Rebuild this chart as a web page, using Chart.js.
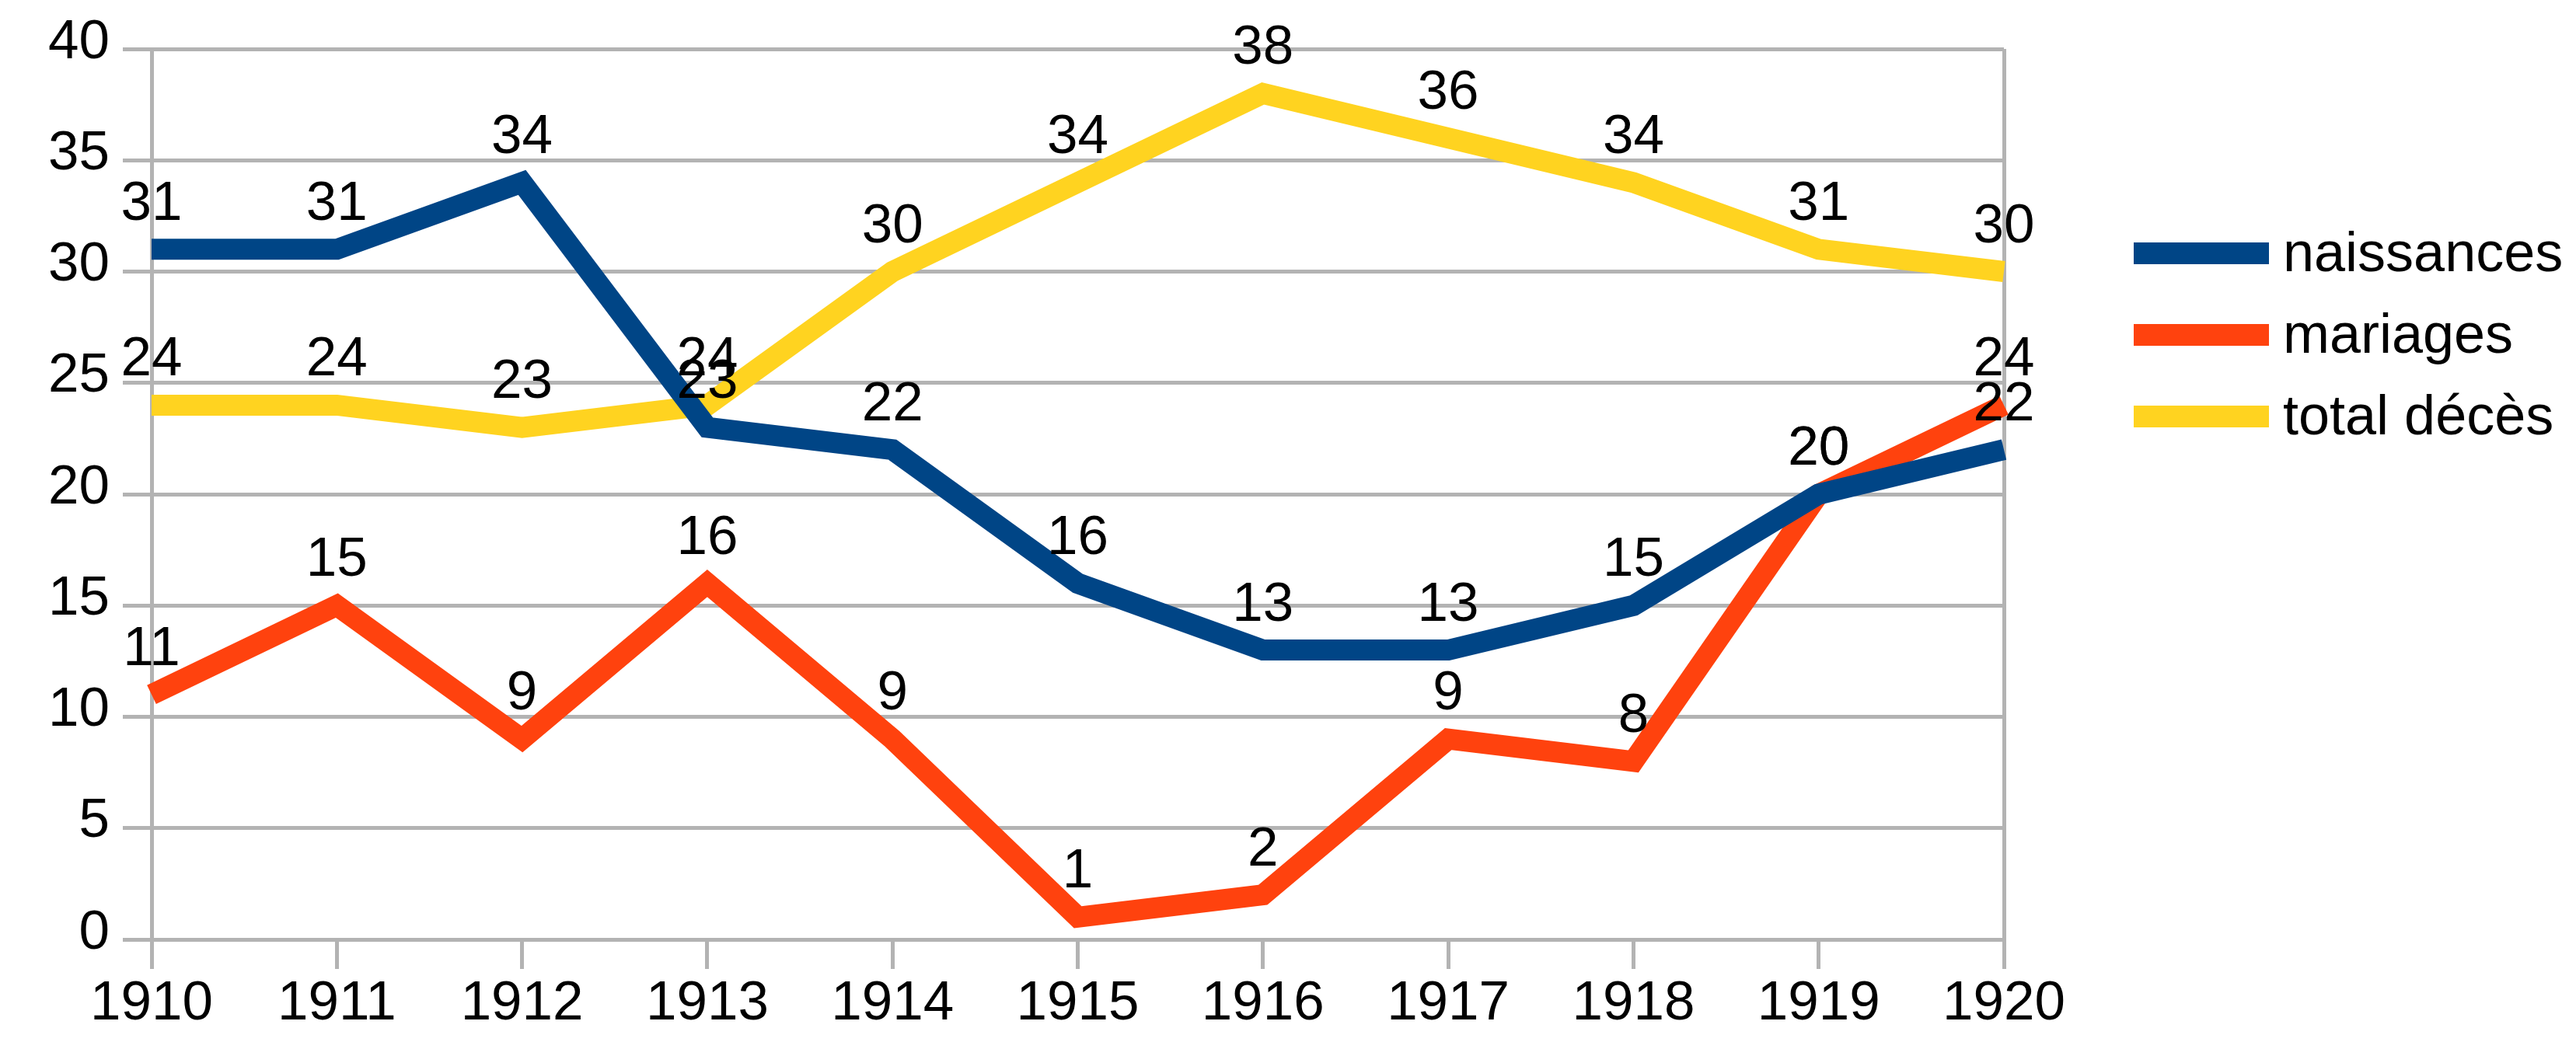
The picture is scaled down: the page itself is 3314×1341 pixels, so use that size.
<!DOCTYPE html>
<html>
<head>
<meta charset="utf-8">
<script src="https://cdn.jsdelivr.net/npm/chart.js@4/dist/chart.umd.min.js"></script>
<style>
html,body{margin:0;padding:0;background:#fff;}
#wrap{width:3314px;height:1341px;position:relative;}
</style>
</head>
<body>
<div id="wrap"><canvas id="c" width="3314" height="1341"></canvas></div>
<script>
const years = ['1910','1911','1912','1913','1914','1915','1916','1917','1918','1919','1920'];
const naissances = [31,31,34,23,22,16,13,13,15,20,22];
const mariages = [11,15,9,16,9,1,2,9,8,20,24];
const totalDeces = [24,24,23,24,30,34,38,36,34,31,30];
const seriesNames = ['naissances','mariages','total décès'];
const seriesColors = ['#004586','#ff420e','#ffd320'];

const FONT = '"Liberation Sans", Arial, sans-serif';
const GRID = '#b3b3b3';
const FS = 71;

const dataLabels = {
  id: 'dataLabels',
  afterDatasetsDraw(chart) {
    const ctx = chart.ctx;
    ctx.save();
    ctx.font = FS + 'px ' + FONT;
    ctx.fillStyle = '#000';
    ctx.textAlign = 'center';
    ctx.textBaseline = 'alphabetic';
    chart.data.datasets.forEach((ds, i) => {
      const meta = chart.getDatasetMeta(i);
      meta.data.forEach((pt, j) => {
        ctx.fillText(String(ds.data[j]), pt.x, pt.y - 38);
      });
    });
    ctx.restore();
  }
};

const customLegend = {
  id: 'customLegend',
  afterDraw(chart) {
    const ctx = chart.ctx;
    const rows = [326, 431, 536];
    ctx.save();
    ctx.font = '72px ' + FONT;
    ctx.textBaseline = 'middle';
    ctx.textAlign = 'left';
    chart.data.datasets.forEach((ds, i) => {
      const y = rows[i];
      ctx.fillStyle = ds.borderColor;
      ctx.fillRect(2745, y - 14, 174, 28);
      ctx.fillStyle = '#000';
      ctx.fillText(ds.label, 2937, y + 3);
    });
    ctx.restore();
  }
};

new Chart(document.getElementById('c'), {
  type: 'line',
  data: {
    labels: years,
    datasets: [
      {label: seriesNames[0], data: naissances, borderColor: seriesColors[0], backgroundColor: seriesColors[0]},
      {label: seriesNames[1], data: mariages, borderColor: seriesColors[1], backgroundColor: seriesColors[1]},
      {label: seriesNames[2], data: totalDeces, borderColor: seriesColors[2], backgroundColor: seriesColors[2]}
    ].map(d => Object.assign(d, {borderWidth: 27, pointRadius: 0, tension: 0, fill: false, borderJoinStyle: 'miter', borderCapStyle: 'butt'}))
  },
  options: {
    responsive: false,
    animation: false,
    devicePixelRatio: 1,
    layout: {padding: {top: 63, right: 736, left: 0, bottom: 0}},
    plugins: {legend: {display: false}, tooltip: {enabled: false}},
    scales: {
      x: {
        type: 'category',
        offset: false,
        grid: {
          color: (c) => (c.index === 0 || c.index === years.length - 1) ? GRID : 'rgba(0,0,0,0)',
          tickColor: GRID,
          lineWidth: 5,
          tickLength: 38,
          drawOnChartArea: true
        },
        border: {display: false},
        ticks: {font: {family: FONT, size: FS}, color: '#000', padding: 3, maxRotation: 0, autoSkip: false},
        afterFit(s) { s.height = 132; }
      },
      y: {
        min: 0, max: 40,
        ticks: {stepSize: 5, font: {family: FONT, size: FS}, color: '#000', padding: 17, labelOffset: -8},
        grid: {color: GRID, lineWidth: 5, tickLength: 37},
        border: {display: true, color: GRID, width: 5},
        afterFit(s) { s.width = 195; }
      }
    }
  },
  plugins: [dataLabels, customLegend]
});
</script>
</body>
</html>
